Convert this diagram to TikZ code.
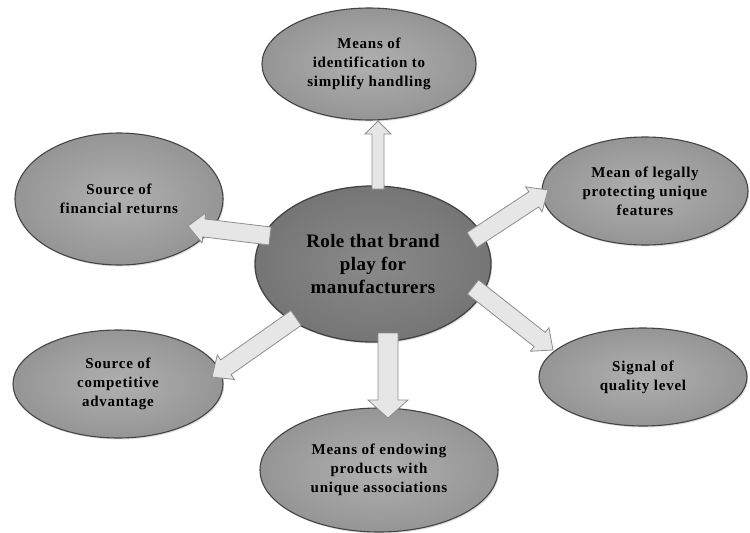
\documentclass[tikz,border=0pt]{standalone}
\usepackage{fontspec}
\setmainfont{Liberation Serif}
\newfontfamily\bubblefont{Liberation Serif}[LetterSpace=5]
\newfontfamily\centrefont{Liberation Serif}[LetterSpace=2]
\usetikzlibrary{shapes.geometric,calc,shadows}
\definecolor{ellin}{HTML}{B0B0B0}
\definecolor{ellout}{HTML}{959595}
\definecolor{ellline}{HTML}{444444}
\definecolor{cenin}{HTML}{8A8A8A}
\definecolor{cenout}{HTML}{757575}
\definecolor{arrfill}{HTML}{E6E6E6}
\definecolor{arrline}{HTML}{8E8E8E}
\newcommand\blkarrow[5]{%
  \coordinate (hbase) at ($(#2)!#5!(#1)$);
  \draw[arrowsty] ($(#1)!#3!90:(#2)$) -- ($(hbase)!#3!90:(#2)$) -- ($(hbase)!#4!90:(#2)$)
    -- (#2) -- ($(hbase)!#4!-90:(#2)$) -- ($(hbase)!#3!-90:(#2)$) -- ($(#1)!#3!-90:(#2)$) -- cycle;}
\begin{document}
\begin{tikzpicture}[x=1pt,y=-1pt,
  bubble/.style={ellipse, draw=ellline, line width=1.1pt, inner color=ellin, outer color=ellout,
    font=\bubblefont\bfseries\fontsize{15}{19}\selectfont, align=center, inner sep=0pt,
    drop shadow={shadow xshift=1.2pt, shadow yshift=-1.5pt, opacity=0.25}},
  centre/.style={bubble, inner color=cenin, outer color=cenout, line width=1.3pt,
    font=\centrefont\bfseries\fontsize{19}{23}\selectfont},
  arrowsty/.style={fill=arrfill, draw=arrline, line width=0.8pt, line join=miter}]
\useasboundingbox (0,0) rectangle (750,533);
\fill[white] (0,0) rectangle (750,533);
% outer ellipses
\node[bubble, minimum width=214pt, minimum height=112pt] (T) at (369,64) {Means of\\identification to\\simplify handling};
\node[bubble, minimum width=208pt, minimum height=132pt] (F) at (119,199) {Source of\\financial returns};
\node[bubble, minimum width=206pt, minimum height=108pt] (L) at (645,191) {Mean of legally\\protecting unique\\features};
\node[bubble, minimum width=210pt, minimum height=108pt] (C) at (118,384) {Source of\\competitive\\advantage};
\node[bubble, minimum width=238pt, minimum height=124pt] (E) at (379,470) {Means of endowing\\products with\\unique associations};
\node[bubble, minimum width=208pt, minimum height=98pt] (S) at (643,377) {Signal of\\quality level};
% centre
\node[centre, minimum width=236pt, minimum height=156pt] (M) at (373,264) {Role that brand\\play for\\manufacturers};
% arrow end points
\coordinate (tT) at (378,189); \coordinate (pT) at (378,121);
\coordinate (tF) at (270,236); \coordinate (pF) at (188,226);
\coordinate (tL) at (472,240); \coordinate (pL) at (548,190);
\coordinate (tS) at (473,287); \coordinate (pS) at (553,350);
\coordinate (tC) at (296,318); \coordinate (pC) at (212,377);
\coordinate (tE) at (388,333); \coordinate (pE) at (388,418);
\blkarrow{tT}{pT}{6pt}{13pt}{13pt}
\blkarrow{tF}{pF}{9pt}{15pt}{16pt}
\blkarrow{tL}{pL}{9pt}{15pt}{17pt}
\blkarrow{tS}{pS}{9pt}{15pt}{17pt}
\blkarrow{tC}{pC}{9pt}{15pt}{17pt}
\blkarrow{tE}{pE}{10pt}{20pt}{18pt}
\end{tikzpicture}
\end{document}
